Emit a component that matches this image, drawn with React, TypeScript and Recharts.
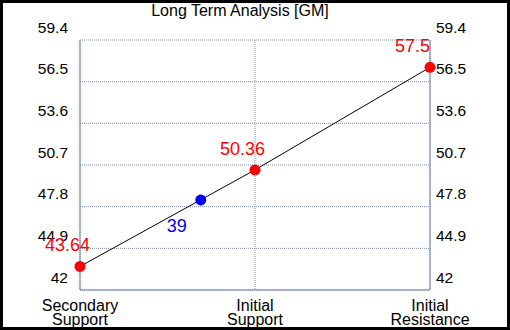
import React from 'react';
import { ComposedChart, Line, Scatter, XAxis, YAxis, CartesianGrid, Customized } from 'recharts';

const title = 'Long Term Analysis [GM]';
const categories = ['Secondary Support', 'Initial Support', 'Initial Resistance'];
const categoryPositions = [0, 1, 2];
const levels = [43.64, 50.36, 57.5];
const currentPositions = [0.69];
const currentValues = [48.27];
const currentLabels = ['39'];
const yTicks = [42, 44.9, 47.8, 50.7, 53.6, 56.5, 59.4];

const levelData = categoryPositions.map((x, i) => ({ x, y: levels[i] }));
const currentData = currentPositions.map((x, i) => ({ x, y: currentValues[i], label: currentLabels[i] }));

const FONT = '"Liberation Sans", Arial, sans-serif';
const AXIS = '#7083a8';
const GRID = '#7f8ca8';

const LeftTick = (p: any) => (
  <text x={p.x} y={p.y - 7.5} textAnchor="end" fontFamily={FONT} fontSize={15.5} fill="#000">
    {p.payload.value}
  </text>
);
const RightTick = (p: any) => (
  <text x={p.x} y={p.y - 7.5} textAnchor="start" fontFamily={FONT} fontSize={15.5} fill="#000">
    {p.payload.value}
  </text>
);
const XTick = (p: any) => {
  const idx = categoryPositions.indexOf(p.payload.value);
  const words = (categories[idx] || '').split(' ');
  return (
    <text x={p.x} y={p.y + 13} textAnchor="middle" fontFamily={FONT} fontSize={16} fill="#000">
      {words.map((w: string, i: number) => (
        <tspan key={i} x={p.x} dy={i === 0 ? 0 : 14}>{w}</tspan>
      ))}
    </text>
  );
};

const LevelLabel = (p: any) => (
  <text x={p.x - 35} y={p.y - 15} textAnchor="start" fontFamily={FONT} fontSize={18} fill="#ff0000">
    {p.value}
  </text>
);

const CurrentShape = (p: any) => (
  <g>
    <circle cx={p.cx} cy={p.cy} r={5.5} fill="#0000ff" />
    <text x={p.cx - 34} y={p.cy + 32} textAnchor="start" fontFamily={FONT} fontSize={18} fill="#0000ff">
      {p.payload.label}
    </text>
  </g>
);

const Title = () => (
  <text x={237} y={13} textAnchor="middle" fontFamily={FONT} fontSize={16} fill="#000">
    {title}
  </text>
);

export default function App() {
  return (
    <div
      style={{
        position: 'absolute',
        left: 0,
        top: 0,
        width: 510,
        height: 330,
        boxSizing: 'border-box',
        border: '3px solid #000',
        background: '#fff',
      }}
    >
      <ComposedChart
        width={504}
        height={324}
        margin={{ top: 37, right: 17, bottom: 7, left: 17 }}
      >
        <CartesianGrid
          yAxisId="left"
          stroke={GRID}
          strokeDasharray="1 1"
        />
        <XAxis
          type="number"
          dataKey="x"
          domain={[0, 2]}
          ticks={categoryPositions}
          height={30}
          stroke={AXIS}
          tickLine={false}
          tick={<XTick />}
          interval={0}
        />
        <YAxis
          yAxisId="left"
          type="number"
          domain={[42, 59.4]}
          ticks={yTicks}
          width={60}
          stroke={AXIS}
          tickLine={false}
          tickSize={0}
          tickMargin={12}
          tick={<LeftTick />}
          interval={0}
        />
        <YAxis
          yAxisId="right"
          orientation="right"
          type="number"
          domain={[42, 59.4]}
          ticks={yTicks}
          width={60}
          stroke={AXIS}
          tickLine={false}
          tickSize={0}
          tickMargin={6}
          tick={<RightTick />}
          interval={0}
        />
        <Line
          yAxisId="right"
          data={levelData}
          dataKey="y"
          stroke="none"
          dot={false}
          activeDot={false}
          legendType="none"
          isAnimationActive={false}
        />
        <Line
          yAxisId="left"
          data={levelData}
          dataKey="y"
          stroke="#000"
          strokeWidth={1}
          dot={{ r: 5.5, fill: '#ff0000', stroke: 'none' }}
          label={<LevelLabel />}
          isAnimationActive={false}
        />
        <Scatter
          yAxisId="left"
          data={currentData}
          dataKey="y"
          shape={<CurrentShape />}
          isAnimationActive={false}
        />
        <Customized component={<Title />} />
      </ComposedChart>
    </div>
  );
}
